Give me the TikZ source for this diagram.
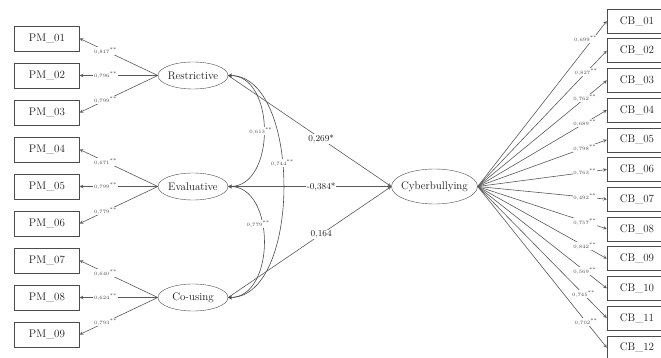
\documentclass[tikz,border=0pt]{standalone}
\usetikzlibrary{positioning,shapes.geometric}
\newcommand{\twostar}{\textsuperscript{**}}

\begin{document}
\begin{tikzpicture}[x=1pt, y=-1pt, node distance=37pt,
  box/.style={draw=black!70, rectangle, minimum width=65pt, minimum height=25pt, inner sep=0pt, text=black!90, font=\fontsize{11}{13}\selectfont},
  latent/.style={draw=black!70, ellipse, minimum width=70pt, minimum height=27pt, inner ysep=0pt, inner xsep=-2pt, text=black!90, font=\fontsize{11}{13}\selectfont},
  lbl/.style={fill=white, inner sep=0.6pt, text=black!70, font=\fontsize{5}{6}\selectfont},
  coef/.style={fill=white, inner sep=0.8pt, text=black!90, font=\fontsize{9}{10}\selectfont},
  load/.style={draw=black!65, line width=0.6pt, arrows=-stealth},
  reg/.style={draw=black!65, line width=0.6pt, arrows=-stealth},
  cov/.style={draw=black!70, line width=0.6pt, arrows=stealth-stealth}]
\useasboundingbox (0,0) rectangle (661,358);
% indicators of parental mediation
\node  (p1) [box] at (47,38.5) {PM\_01};
\node  (p2) [box, below of = p1] {PM\_02};
\node  (p3) [box, below of = p2] {PM\_03};
\node  (p4) [box, below of = p3] {PM\_04};
\node  (p5) [box, below of = p4] {PM\_05};
\node  (p6) [box, below of = p5] {PM\_06};
\node  (p7) [box, below of = p6] {PM\_07};
\node  (p8) [box, below of = p7] {PM\_08};
\node  (p9) [box, below of = p8] {PM\_09};
% latent factors
\node  (r) [latent, right of = p2, node distance=146pt] {Restrictive};
\node  (e) [latent, right of = p5, node distance=146pt] {Evaluative};
\node  (u) [latent, right of = p8, node distance=146pt] {Co-using};
\node  (cb) [latent, minimum width=86pt, minimum height=35pt, inner xsep=-7pt, right of = e, node distance=241.5pt] {Cyberbullying};
% indicators of cyberbullying
\node  (c1) [box, minimum width=60pt, minimum height=24pt] at (637,21) {CB\_01};
\node  (c2) [box, minimum width=60pt, minimum height=24pt, below of = c1, node distance=29.7pt] {CB\_02};
\node  (c3) [box, minimum width=60pt, minimum height=24pt, below of = c2, node distance=29.7pt] {CB\_03};
\node  (c4) [box, minimum width=60pt, minimum height=24pt, below of = c3, node distance=29.7pt] {CB\_04};
\node  (c5) [box, minimum width=60pt, minimum height=24pt, below of = c4, node distance=29.7pt] {CB\_05};
\node  (c6) [box, minimum width=60pt, minimum height=24pt, below of = c5, node distance=29.7pt] {CB\_06};
\node  (c7) [box, minimum width=60pt, minimum height=24pt, below of = c6, node distance=29.7pt] {CB\_07};
\node  (c8) [box, minimum width=60pt, minimum height=24pt, below of = c7, node distance=29.7pt] {CB\_08};
\node  (c9) [box, minimum width=60pt, minimum height=24pt, below of = c8, node distance=29.7pt] {CB\_09};
\node  (c10) [box, minimum width=60pt, minimum height=24pt, below of = c9, node distance=29.7pt] {CB\_10};
\node  (c11) [box, minimum width=60pt, minimum height=24pt, below of = c10, node distance=29.7pt] {CB\_11};
\node  (c12) [box, minimum width=60pt, minimum height=24pt, below of = c11, node distance=29.7pt] {CB\_12};
% loadings
\draw[load] (r.west) -- node[lbl, pos=0.67] {0,817\twostar} (p1.east);
\draw[load] (r.west) -- node[lbl, pos=0.67] {0,796\twostar} (p2.east);
\draw[load] (r.west) -- node[lbl, pos=0.67] {0,799\twostar} (p3.east);
\draw[load] (e.west) -- node[lbl, pos=0.67] {0,671\twostar} (p4.east);
\draw[load] (e.west) -- node[lbl, pos=0.67] {0,799\twostar} (p5.east);
\draw[load] (e.west) -- node[lbl, pos=0.67] {0,779\twostar} (p6.east);
\draw[load] (u.west) -- node[lbl, pos=0.67] {0,640\twostar} (p7.east);
\draw[load] (u.west) -- node[lbl, pos=0.67] {0,624\twostar} (p8.east);
\draw[load] (u.west) -- node[lbl, pos=0.67] {0,793\twostar} (p9.east);
\draw[load] (cb.east) -- node[lbl, pos=0.89, xshift=-7pt] {0,699\twostar} (c1.west);
\draw[load] (cb.east) -- node[lbl, pos=0.84] {0,827\twostar} (c2.west);
\draw[load] (cb.east) -- node[lbl, pos=0.83] {0,762\twostar} (c3.west);
\draw[load] (cb.east) -- node[lbl, pos=0.83] {0,689\twostar} (c4.west);
\draw[load] (cb.east) -- node[lbl, pos=0.83] {0,798\twostar} (c5.west);
\draw[load] (cb.east) -- node[lbl, pos=0.83] {0,763\twostar} (c6.west);
\draw[load] (cb.east) -- node[lbl, pos=0.83] {0,492\twostar} (c7.west);
\draw[load] (cb.east) -- node[lbl, pos=0.83] {0,757\twostar} (c8.west);
\draw[load] (cb.east) -- node[lbl, pos=0.83] {0,842\twostar} (c9.west);
\draw[load] (cb.east) -- node[lbl, pos=0.83] {0,569\twostar} (c10.west);
\draw[load] (cb.east) -- node[lbl, pos=0.82] {0,745\twostar} (c11.west);
\draw[load] (cb.east) -- node[lbl, pos=0.84] {0,702\twostar} (c12.west);
% paths
\draw[reg] (r.east) -- node[coef, pos=0.57] {0,269*} (cb.west);
\draw[reg] (e.east) -- node[coef, pos=0.57] {-0,384*} (cb.west);
\draw[reg] (u.east) -- node[coef, pos=0.57] {0,164} (cb.west);
% covariances
\draw[cov] (r.east) to[out=0, in=0, looseness=1.1] node[lbl, pos=0.5, xshift=-3pt] {0,613\twostar} (e.east);
\draw[cov] (e.east) to[out=0, in=0, looseness=1.1] node[lbl, pos=0.39, xshift=-4pt] {0,779\twostar} (u.east);
\draw[cov] (r.east) to[out=0, in=0, looseness=0.85] node[lbl, pos=0.43] {0,744\twostar} (u.east);
\end{tikzpicture}
\end{document}
